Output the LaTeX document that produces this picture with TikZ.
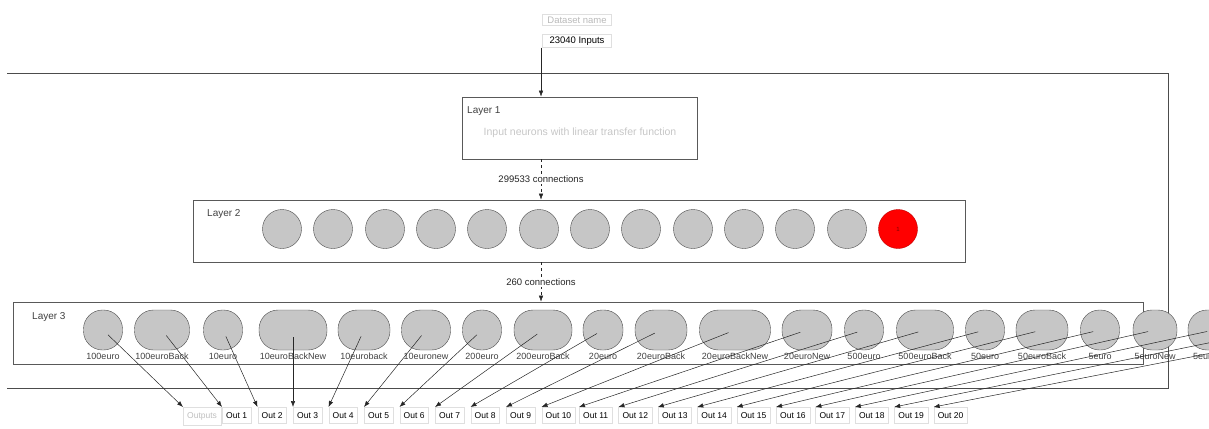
\documentclass[tikz,border=0pt]{standalone}
\usepackage{fontspec}
\setmainfont{Liberation Sans}
\usepackage{tikz}
\usetikzlibrary{arrows.meta}

\begin{document}
\begin{tikzpicture}[x=1pt,y=-1pt,
  topbox/.style={draw=gray!25,minimum width=69pt,inner sep=2pt,font=\fontsize{9.5}{11}\selectfont},
  layerbox/.style={draw=black!65,line width=0.8pt,minimum height=62pt,inner sep=0pt},
  layertitle/.style={anchor=west,inner sep=0pt,text=black!75,font=\fontsize{10}{12}\selectfont},
  hidden/.style={circle,draw=black!70,fill=gray!45,minimum size=39pt,inner sep=0pt},
  neuron/.style={rectangle,rounded corners=19pt,draw=black!70,fill=gray!45,minimum height=40pt,inner sep=0pt},
  neulbl/.style={inner sep=0pt,label distance=2.5pt,text=black!75,font=\fontsize{9}{10}\selectfont},
  outbox/.style={anchor=north west,draw=gray!25,inner xsep=4pt,inner ysep=5pt,font=\fontsize{8.5}{10}\selectfont},
  conlbl/.style={fill=white,inner sep=1.5pt,font=\fontsize{9.5}{11}\selectfont},
  tip/.style={-{Latex[length=6pt,width=4.5pt]}},
  conn/.style={tip,black!85,line width=0.5pt,shorten <=7pt}]
\useasboundingbox (0,0) rectangle (1209,428);
%frame
\draw[black!70,line width=0.8pt] (7,73) -- (1168,73) -- (1168,388) -- (7,388);
\coordinate (axis) at (541,0);
%inputs
\node[topbox,text=gray!55] (dsname) at (577,20) {Dataset name};
\node[topbox] (inputs) at (577,41) {23040 Inputs};
%layer 1
\node[layerbox,minimum width=235pt] (layer1) at (579.5,128) {};
\node[layertitle] (l1title) at (467,111) {Layer 1};
\node[text=gray!45,font=\fontsize{10.5}{12}\selectfont] (l1text) at (580,133) {Input neurons with linear transfer function};
%layer 2
\node[layerbox,minimum width=772pt] (layer2) at (579,231) {};
\node[layertitle] (l2title) at (207,214) {Layer 2};
\node[hidden] (h1) at (282,229) {};
\node[hidden] (h2) at (333,229) {};
\node[hidden] (h3) at (385,229) {};
\node[hidden] (h4) at (436,229) {};
\node[hidden] (h5) at (487,229) {};
\node[hidden] (h6) at (539,229) {};
\node[hidden] (h7) at (590,229) {};
\node[hidden] (h8) at (641,229) {};
\node[hidden] (h9) at (693,229) {};
\node[hidden] (h10) at (744,229) {};
\node[hidden] (h11) at (795,229) {};
\node[hidden] (h12) at (847,229) {};
\node[hidden,fill=red,draw=red!75!black,text=red!50!black,font=\fontsize{6}{7}\selectfont] (h13) at (898,229) {1};
%layer 3
\node[layerbox,minimum width=1130pt] (layer3) at (578,333) {};
\node[layertitle] (l3title) at (32,317) {Layer 3};
\node[neuron,minimum width=39pt,label={[neulbl]below:100euro}] (n0) at (103,330) {};
\node[neuron,minimum width=55pt,label={[neulbl]below:100euroBack}] (n1) at (162,330) {};
\node[neuron,minimum width=39pt,label={[neulbl]below:10euro}] (n2) at (223,330) {};
\node[neuron,minimum width=68pt,label={[neulbl]below:10euroBackNew}] (n3) at (293,330) {};
\node[neuron,minimum width=52pt,label={[neulbl]below:10euroback}] (n4) at (364,330) {};
\node[neuron,minimum width=49pt,label={[neulbl]below:10euronew}] (n5) at (426,330) {};
\node[neuron,minimum width=39pt,label={[neulbl]below:200euro}] (n6) at (482,330) {};
\node[neuron,minimum width=58pt,label={[neulbl]below:200euroBack}] (n7) at (543,330) {};
\node[neuron,minimum width=40pt,label={[neulbl]below:20euro}] (n8) at (603,330) {};
\node[neuron,minimum width=52pt,label={[neulbl]below:20euroBack}] (n9) at (661,330) {};
\node[neuron,minimum width=71pt,label={[neulbl]below:20euroBackNew}] (n10) at (735,330) {};
\node[neuron,minimum width=50pt,label={[neulbl]below:20euroNew}] (n11) at (807,330) {};
\node[neuron,minimum width=39pt,label={[neulbl]below:500euro}] (n12) at (864,330) {};
\node[neuron,minimum width=57pt,label={[neulbl]below:500euroBack}] (n13) at (925,330) {};
\node[neuron,minimum width=39pt,label={[neulbl]below:50euro}] (n14) at (985,330) {};
\node[neuron,minimum width=52pt,label={[neulbl]below:50euroBack}] (n15) at (1042,330) {};
\node[neuron,minimum width=39pt,label={[neulbl]below:5euro}] (n16) at (1100,330) {};
\node[neuron,minimum width=44pt,label={[neulbl]below:5euroNew}] (n17) at (1155,330) {};
\node[neuron,minimum width=52pt,label={[neulbl]below:5euroback}] (n18) at (1214,330) {};
\coordinate (n19) at (1272,330);
\coordinate (n20) at (1330,330);
%outputs
\node[outbox,text=gray!50] (o0) at (183,407) {Outputs};
\node[outbox] (o1) at (222,407) {Out 1};
\node[outbox] (o2) at (257.5,407) {Out 2};
\node[outbox] (o3) at (293,407) {Out 3};
\node[outbox] (o4) at (328.5,407) {Out 4};
\node[outbox] (o5) at (364,407) {Out 5};
\node[outbox] (o6) at (399.5,407) {Out 6};
\node[outbox] (o7) at (435,407) {Out 7};
\node[outbox] (o8) at (470.5,407) {Out 8};
\node[outbox] (o9) at (506,407) {Out 9};
\node[outbox] (o10) at (541.5,407) {Out 10};
\node[outbox] (o11) at (579,407) {Out 11};
\node[outbox] (o12) at (618.4,407) {Out 12};
\node[outbox] (o13) at (657.8,407) {Out 13};
\node[outbox] (o14) at (697.2,407) {Out 14};
\node[outbox] (o15) at (736.6,407) {Out 15};
\node[outbox] (o16) at (776,407) {Out 16};
\node[outbox] (o17) at (815.4,407) {Out 17};
\node[outbox] (o18) at (854.8,407) {Out 18};
\node[outbox] (o19) at (894.2,407) {Out 19};
\node[outbox] (o20) at (933.6,407) {Out 20};
%connections between layers
\draw[tip,black!85] (inputs.south -| axis) -- (layer1.north -| axis);
\draw[dashed,tip,black!85] (layer1.south -| axis) -- node[conlbl] {299533 connections} (layer2.north -| axis);
\draw[dashed,tip,black!85] (layer2.south -| axis) -- node[conlbl] {260 connections} (layer3.north -| axis);
%neurons to outputs
\draw[conn] (n0.center) -- (o0.north west);
\draw[conn] (n1.center) -- (o1.north west);
\draw[conn] (n2.center) -- (o2.north west);
\draw[conn] (n3.center) -- (o3.north west);
\draw[conn] (n4.center) -- (o4.north west);
\draw[conn] (n5.center) -- (o5.north west);
\draw[conn] (n6.center) -- (o6.north west);
\draw[conn] (n7.center) -- (o7.north west);
\draw[conn] (n8.center) -- (o8.north west);
\draw[conn] (n9.center) -- (o9.north west);
\draw[conn] (n10.center) -- (o10.north west);
\draw[conn] (n11.center) -- (o11.north west);
\draw[conn] (n12.center) -- (o12.north west);
\draw[conn] (n13.center) -- (o13.north west);
\draw[conn] (n14.center) -- (o14.north west);
\draw[conn] (n15.center) -- (o15.north west);
\draw[conn] (n16.center) -- (o16.north west);
\draw[conn] (n17.center) -- (o17.north west);
\draw[conn] (n18.center) -- (o18.north west);
\draw[conn] (n19) -- (o19.north west);
\draw[conn] (n20) -- (o20.north west);
\end{tikzpicture}
\end{document}
